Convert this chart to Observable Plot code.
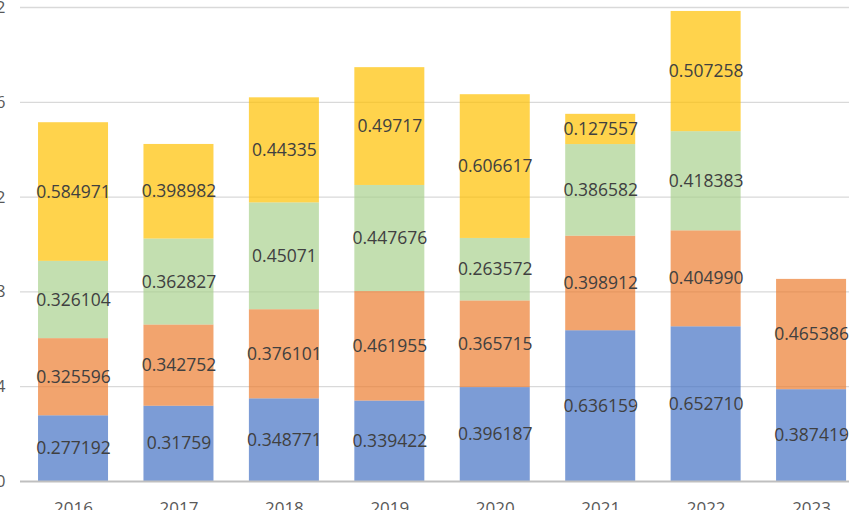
<!DOCTYPE html>
<html>
<head>
<meta charset="utf-8">
<script src="https://cdn.jsdelivr.net/npm/d3@7"></script>
<script src="https://cdn.jsdelivr.net/npm/@observablehq/plot@0.6"></script>
<style>
  html, body { margin: 0; padding: 0; background: #fff; overflow: hidden; }
  #chart svg { display: block; }
</style>
</head>
<body>
<div id="chart"></div>
<script>
const years = ["2016", "2017", "2018", "2019", "2020", "2021", "2022", "2023"];
const seriesNames = ["s1", "s2", "s3", "s4"];
const seriesColors = ["#4472C4", "#ED7D31", "#A9D18E", "#FFC000"];
const blueLabels   = ["0.277192", "0.31759", "0.348771", "0.339422", "0.396187", "0.636159", "0.652710", "0.387419"];
const orangeLabels = ["0.325596", "0.342752", "0.376101", "0.461955", "0.365715", "0.398912", "0.404990", "0.465386"];
const greenLabels  = ["0.326104", "0.362827", "0.45071", "0.447676", "0.263572", "0.386582", "0.418383", null];
const yellowLabels = ["0.584971", "0.398982", "0.44335", "0.49717", "0.606617", "0.127557", "0.507258", null];
const yTicks = [0, 0.4, 0.8, 1.2, 1.6, 2];
const yTickLabels = ["0", "0.4", "0.8", "1.2", "1.6", "2"];

const allLabels = [blueLabels, orangeLabels, greenLabels, yellowLabels];
const rows = [];
allLabels.forEach((arr, si) => {
  arr.forEach((lab, i) => {
    if (lab !== null) rows.push({year: years[i], series: seriesNames[si], value: Number(lab), label: lab});
  });
});

const font = "'Open Sans', 'Noto Sans', sans-serif";

const plot = Plot.plot({
  width: 849,
  height: 510,
  marginLeft: 20,
  marginRight: 0,
  marginTop: 0,
  marginBottom: 29,
  style: {fontFamily: font, background: "#fff", overflow: "hidden"},
  x: {type: "band", domain: years, range: [2.6, 881.5], padding: 0.336, round: false, axis: null},
  y: {domain: [0, 2], range: [481, 7], axis: null},
  color: {domain: seriesNames, range: seriesColors},
  marks: [
    Plot.ruleY(yTicks.slice(1), {stroke: "#d9d9d9", strokeWidth: 1.3}),
    Plot.barY(rows, {x: "year", y: "value", fill: "series", fillOpacity: 0.7, order: seriesNames}),
    Plot.ruleY([0], {stroke: "#bfbfbf", strokeWidth: 2}),
    Plot.text(rows, Plot.stackY({x: "year", y: "value", z: "series", order: seriesNames, text: "label",
      fill: "#404040", fontSize: 17.5, fontFamily: font})),
    Plot.text(yTicks, {y: d => d, text: (d, i) => yTickLabels[i], frameAnchor: "left", dx: -15,
      textAnchor: "end", fill: "#595959", fontSize: 17, fontFamily: font}),
    Plot.text(years, {x: d => d, text: d => d, frameAnchor: "bottom", dy: 32,
      fill: "#595959", fontSize: 17, fontFamily: font})
  ]
});
document.getElementById("chart").appendChild(plot);
</script>
</body>
</html>
